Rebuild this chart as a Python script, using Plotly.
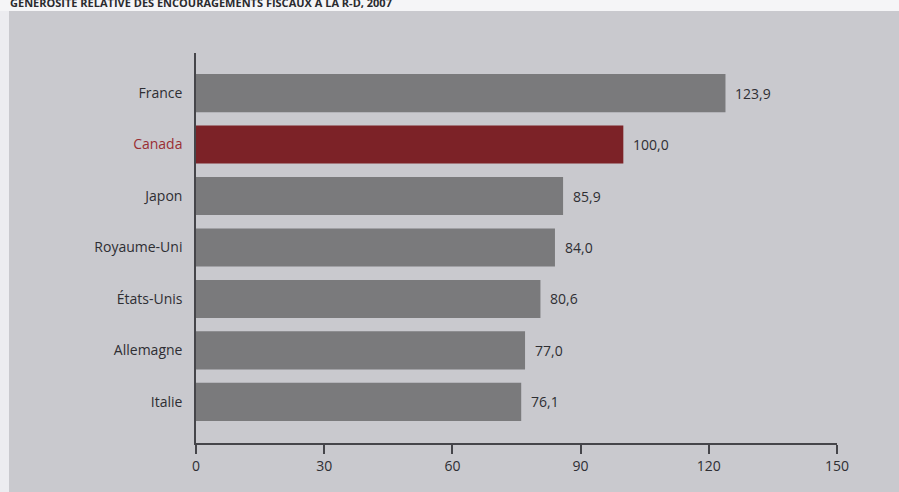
import plotly.graph_objects as go

countries = ["France", "Canada", "Japon", "Royaume-Uni", "États-Unis", "Allemagne", "Italie"]
values = [123.9, 100.0, 85.9, 84.0, 80.6, 77.0, 76.1]
highlight = "Canada"
x_ticks = [0, 30, 60, 90, 120, 150]
title_text = "GÉNÉROSITÉ RELATIVE DES ENCOURAGEMENTS FISCAUX À LA R-D, 2007"

GREY_BAR = "#7a7a7c"
RED_BAR = "#7c2227"
PANEL = "#c9c9ce"
TEXT = "#2e2e33"
RED_TEXT = "#9a2e33"
FONT = "'Open Sans', sans-serif"

colors = [RED_BAR if c == highlight else GREY_BAR for c in countries]
ticktext = [f"<span style='color:{RED_TEXT}'>{c}</span>" if c == highlight else c for c in countries]

fig = go.Figure(go.Bar(
    x=values, y=countries, orientation="h",
    marker=dict(color=colors, line=dict(width=0)),
    hoverinfo="skip",
))

for c, v in zip(countries, values):
    fig.add_annotation(
        x=v, y=c, xref="x", yref="y",
        text=f"{v:.1f}".replace(".", ","),
        showarrow=False, xanchor="left", xshift=8,
        font=dict(family=FONT, size=14, color=TEXT),
    )

L, R, T, B = 196, 62, 53, 49
W, H = 899, 492
pw, ph = W - L - R, H - T - B

def px_to_paper_x(px):
    return (px - L) / pw

def px_to_paper_y(py):
    return (H - B - py) / ph

# white strips around the scanned panel
fig.add_shape(type="rect", xref="paper", yref="paper",
              x0=px_to_paper_x(-5), x1=px_to_paper_x(9),
              y0=px_to_paper_y(H + 5), y1=px_to_paper_y(-5),
              fillcolor="#ececf0", line=dict(width=0), layer="below")
fig.add_shape(type="rect", xref="paper", yref="paper",
              x0=px_to_paper_x(-5), x1=px_to_paper_x(W + 5),
              y0=px_to_paper_y(11), y1=px_to_paper_y(-5),
              fillcolor="#f5f5f7", line=dict(width=0), layer="below")

fig.add_annotation(
    xref="paper", yref="paper", x=px_to_paper_x(8), y=px_to_paper_y(2),
    text=f"<b>{title_text}</b>", showarrow=False,
    xanchor="left", yanchor="middle",
    font=dict(family="'Open Sans', sans-serif", size=11, color="#2a2a2e"),
)

fig.update_layout(
    width=W, height=H,
    margin=dict(l=L, r=R, t=T, b=B, pad=0),
    paper_bgcolor=PANEL, plot_bgcolor=PANEL,
    bargap=0.26,
    showlegend=False,
    font=dict(family=FONT, size=14, color=TEXT),
    xaxis=dict(
        range=[0, 150], tickvals=x_ticks, ticktext=[str(t) for t in x_ticks],
        showgrid=False, zeroline=False,
        showline=True, linecolor="#45454a", linewidth=1.5,
        ticks="outside", ticklen=9, tickwidth=1.5, tickcolor="#45454a",
        tickfont=dict(family=FONT, size=14, color=TEXT),
    ),
    yaxis=dict(
        type="category", categoryorder="array", categoryarray=countries,
        tickvals=countries, ticktext=ticktext,
        range=[6.8, -0.78],
        showgrid=False, zeroline=False,
        showline=True, linecolor="#45454a", linewidth=1.5,
        ticks="", ticklabelstandoff=9,
        tickfont=dict(family=FONT, size=14, color=TEXT),
    ),
)

fig.write_html("out.html")
